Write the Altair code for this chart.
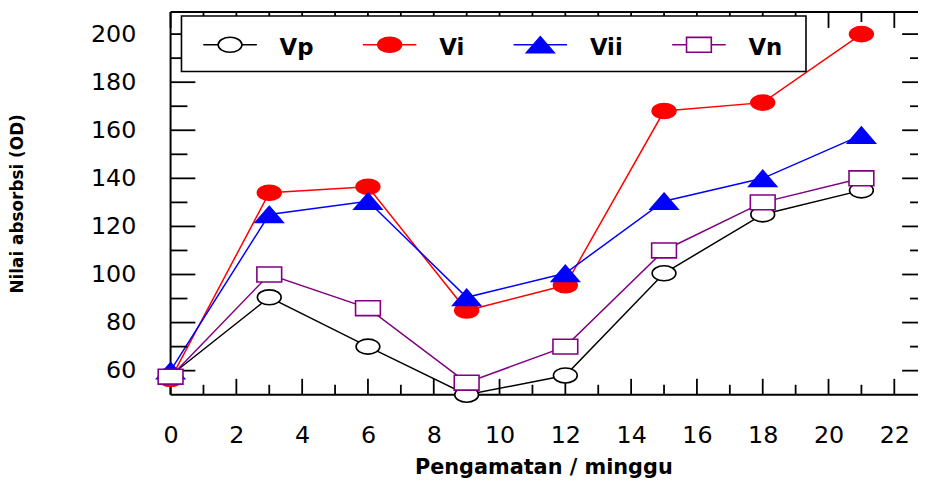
import altair as alt
import pandas as pd

# ---- data ----
weeks = [0, 3, 6, 9, 12, 15, 18, 21]
vp = [58, 90.5, 70, 50, 58, 100.5, 125, 135]
vi = [56.5, 134, 136.5, 85, 95.5, 168, 171.5, 200]
vii = [60, 125, 130.5, 90.5, 100.5, 130.5, 140, 158]
vn = [57.5, 100, 86, 55, 70, 110, 130, 140]
series_names = ["Vp", "Vi", "Vii", "Vn"]

x_major = list(range(0, 23, 2))
x_minor = list(range(1, 22, 2))
y_major = list(range(60, 201, 20))
y_minor = list(range(70, 200, 20))

# ---- styles ----
W, H = 754, 386
FONT = "DejaVu Sans"
line_colors = ["black", "red", "blue", "#800080"]
fill_colors = ["white", "red", "blue", "white"]
ellipse = "M-1,0A1,0.63,0,1,0,1,0A1,0.63,0,1,0,-1,0Z"
triangle = "M0,-0.58L1,0.58L-1,0.58Z"
rect = "M-1,-0.6H1V0.6H-1Z"
shapes = [ellipse, ellipse, triangle, rect]
sizes = [576, 576, 784, 625]

values = [vp, vi, vii, vn]
rows = []
for k, name in enumerate(series_names):
    for w, v in zip(weeks, values[k]):
        rows.append({"series": name, "week": w, "value": v,
                     "stroke": line_colors[k], "fill": fill_colors[k],
                     "shape": shapes[k], "size": sizes[k]})
df = pd.DataFrame(rows)

xscale = alt.Scale(domain=[0, 22.72], nice=False, zero=False)
yscale = alt.Scale(domain=[50, 50 + H / 2.425], nice=False, zero=False)

base = alt.Chart(df)

lines = base.mark_line(strokeWidth=1.5).encode(
    x=alt.X("week:Q", scale=xscale,
            axis=alt.Axis(values=x_major, ticks=False, tickSize=0, domain=False, grid=False,
                          labelFont=FONT, labelFontSize=24, labelColor="black",
                          labelPadding=29, labelFlush=False, labelOverlap=False,
                          title="Pengamatan / minggu", titleFont=FONT, titleFontSize=21,
                          titleFontWeight="bold", titleColor="black",
                          titleX=376, titleY=79, titleBaseline="alphabetic", titleAlign="center")),
    y=alt.Y("value:Q", scale=yscale,
            axis=alt.Axis(values=y_major, ticks=False, tickSize=0, domain=False, grid=False,
                          labelFont=FONT, labelFontSize=24, labelColor="black",
                          labelPadding=35, labelFlush=False, labelOverlap=False,
                          title="Nilai absorbsi (OD)", titleFont=FONT, titleFontSize=17,
                          titleFontWeight="bold", titleColor="black",
                          titleX=-154, titleY=H / 2, titleAngle=-90,
                          titleBaseline="middle", titleAlign="center")),
    color=alt.Color("series:N", scale=alt.Scale(domain=series_names, range=line_colors), legend=None),
)

points = base.mark_point(opacity=1, fillOpacity=1, strokeWidth=1.6).encode(
    x=alt.X("week:Q", scale=xscale),
    y=alt.Y("value:Q", scale=yscale),
    shape=alt.Shape("shape:N", scale=None),
    size=alt.Size("size:Q", scale=None),
    fill=alt.Fill("fill:N", scale=None),
    stroke=alt.Stroke("stroke:N", scale=None),
)

# ---- frame and inward ticks ----
one = pd.DataFrame({"a": [0]})
frame = [
    alt.Chart(one).mark_rule(color="black", strokeWidth=2).encode(
        x=alt.value(0), x2=alt.value(W), y=alt.value(0)),
    alt.Chart(one).mark_rule(color="black", strokeWidth=2).encode(
        x=alt.value(0), x2=alt.value(W), y=alt.value(H)),
    alt.Chart(one).mark_rule(color="black", strokeWidth=2).encode(
        x=alt.value(0), y=alt.value(0), y2=alt.value(H)),
]


def xticks(vals, y0, y1):
    return alt.Chart(pd.DataFrame({"week": vals})).mark_rule(color="black", strokeWidth=1.8).encode(
        x=alt.X("week:Q", scale=xscale), y=alt.value(y0), y2=alt.value(y1))


def yticks(vals, x0, x1):
    return alt.Chart(pd.DataFrame({"value": vals})).mark_rule(color="black", strokeWidth=1.8).encode(
        y=alt.Y("value:Q", scale=yscale), x=alt.value(x0), x2=alt.value(x1))


ticks = [
    xticks(x_major, H, H - 16), xticks(x_minor, H, H - 10),
    xticks(x_major, 0, 16), xticks(x_minor, 0, 10),
    yticks(y_major, 0, 25), yticks(y_minor, 0, 17),
    yticks(y_major, W - 16, W), yticks(y_minor, W - 8, W),
]

# ---- legend ----
legend_layers = [
    alt.Chart(one).mark_rect(fill="white", stroke="black", strokeWidth=1.6).encode(
        x=alt.value(11), x2=alt.value(641), y=alt.value(4), y2=alt.value(60))
]
sym_x = [60, 221, 373, 533]
for k, name in enumerate(series_names):
    cx = sym_x[k]
    legend_layers.append(
        alt.Chart(one).mark_rule(color=line_colors[k], strokeWidth=1.5).encode(
            x=alt.value(cx - 27), x2=alt.value(cx + 27), y=alt.value(33)))
    legend_layers.append(
        alt.Chart(one).mark_point(opacity=1, fillOpacity=1, strokeWidth=1.6,
                                  shape=shapes[k], size=sizes[k],
                                  fill=fill_colors[k], stroke=line_colors[k]).encode(
            x=alt.value(cx), y=alt.value(33)))
    legend_layers.append(
        alt.Chart(one).mark_text(text=name, font=FONT, fontSize=23, fontWeight="bold",
                                 color="black", align="left", baseline="alphabetic").encode(
            x=alt.value(cx + 50), y=alt.value(43)))

chart = alt.layer(lines, *ticks, *frame, *legend_layers, points).properties(
    width=W, height=H,
    padding={"left": 164, "top": 2, "right": 0, "bottom": 88},
    autosize=alt.AutoSizeParams(type="none"),
    background="white",
).configure_view(stroke=None)

chart.save("out.html", embed_options={"renderer": "svg", "actions": False})
